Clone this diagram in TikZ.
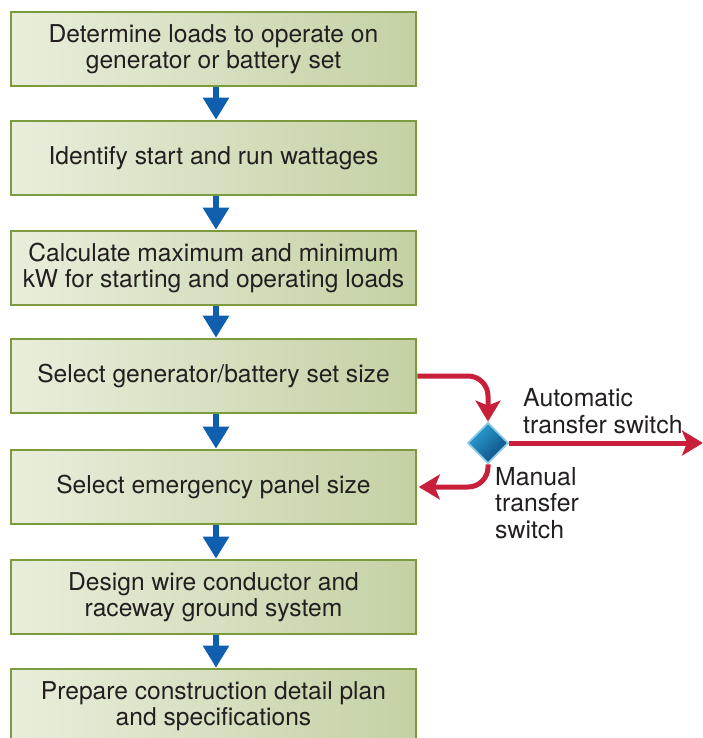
\documentclass[tikz,border=0pt]{standalone}
\usepackage{fontspec}
\setmainfont{TeX Gyre Heros}
\usetikzlibrary{arrows.meta,shapes.geometric}
\definecolor{boxL}{HTML}{E9EEDC}
\definecolor{boxR}{HTML}{C4D1A4}
\definecolor{boxB}{HTML}{7C9B3D}
\definecolor{arrBlue}{HTML}{0F5FAE}
\definecolor{arrRed}{HTML}{C8203A}
\definecolor{diaL}{HTML}{2DA3D6}
\definecolor{diaD}{HTML}{0B4A7E}
\definecolor{diaB}{HTML}{92CDEA}
\definecolor{txt}{HTML}{231F20}
\tikzset{
  stepbox/.style={draw=boxB, line width=2.6pt, left color=boxL, right color=boxR,
    minimum width=405pt, minimum height=74pt, inner sep=0pt, align=center,
    font=\fontsize{24.6}{26}\selectfont, text=txt},
  bluearrow/.style={draw=arrBlue, line width=6pt, -{Triangle[width=25pt,length=22pt]}},
  redarrow/.style={draw=arrRed, line width=5pt, -{Stealth[width=25pt,length=21pt,inset=5pt]}},
  switchdia/.style={diamond, draw=diaB, line width=1.8pt, top color=diaL, bottom color=diaD,
    shading angle=45, minimum width=41pt, minimum height=41pt, inner sep=0pt},
  lbl/.style={font=\fontsize{24.8}{26.5}\selectfont, text=txt, align=left, inner sep=0pt}
}
\begin{document}
\begin{tikzpicture}[x=1pt,y=-1pt]
\useasboundingbox (0,0) rectangle (702,738);
\clip (0,0) rectangle (702,738);
\node[stepbox] (b1) at (213.5,49) {Determine loads to operate on\\generator or battery set};
\node[stepbox] (b2) at (213.5,158) {Identify start and run wattages};
\node[stepbox] (b3) at (213.5,268) {Calculate maximum and minimum\\kW for starting and operating loads};
\node[stepbox] (b4) at (213.5,376) {Select generator/battery set size};
\node[stepbox] (b5) at (213.5,487) {Select emergency panel size};
\node[stepbox] (b6) at (213.5,597) {Design wire conductor and\\raceway ground system};
\node[stepbox] (b7) at (213.5,706) {Prepare construction detail plan\\and specifications};
\foreach \a/\b in {b1/b2,b2/b3,b3/b4,b4/b5,b5/b6,b6/b7}
  \draw[bluearrow] ([xshift=2.5pt]\a.south) -- ([xshift=2.5pt]\b.north);
\node[switchdia] (dia) at (488,443) {};
\coordinate (rend) at (703,443);
\draw[redarrow, rounded corners=20pt] (b4.east) -| (dia.north);
\draw[redarrow] (dia.east) -- (rend);
\draw[redarrow, rounded corners=20pt] (dia.south) |- ([xshift=1.5pt]b5.east);
\node[lbl, anchor=west] (auto) at (523,411) {Automatic\\transfer switch};
\node[lbl, anchor=north west] (man) at (495,467) {Manual\\transfer\\switch};
\end{tikzpicture}
\end{document}
